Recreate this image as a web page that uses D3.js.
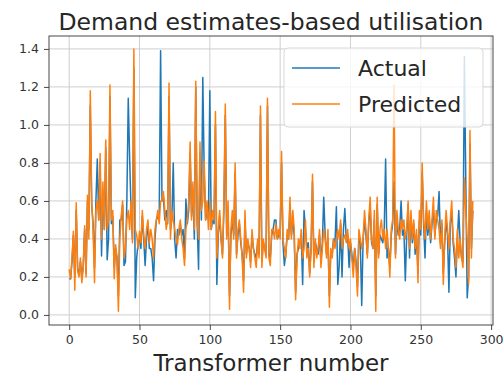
<!DOCTYPE html>
<html>
<head>
<meta charset="utf-8">
<script src="https://cdn.jsdelivr.net/npm/d3@7"></script>
<style>
    html, body { margin: 0; padding: 0; background: #fff; }
    #graphDiv { width: 504px; height: 377px; }
    text { font-family: "DejaVu Sans", sans-serif; }
</style>
</head>
<body>
<div id="graphDiv"></div>
<script>
// data, index = transformer number
var actual = [
    0.19, 0.19, 0.28, 0.42, 0.20, 0.55, 0.25, 0.21, 0.28, 0.19,
    0.26, 0.45, 0.22, 0.60, 0.45, 1.10, 0.58, 0.48, 0.25, 0.60,
    0.82, 0.50, 0.80, 0.31, 0.65, 0.45, 0.88, 0.29, 0.40, 1.15,
    0.48, 0.52, 0.25, 0.35, 0.30, 0.10, 0.50, 0.50, 0.58, 0.26,
    0.28, 0.60, 1.14, 0.82, 0.55, 0.40, 1.30, 0.09, 0.30, 0.38,
    0.40, 0.35, 0.52, 0.40, 0.26, 0.40, 0.48, 0.35, 0.35, 0.30,
    0.18, 0.40, 0.50, 0.52, 0.50, 1.39, 0.60, 0.62, 0.50, 0.55,
    0.48, 1.15, 0.45, 0.50, 0.80, 0.40, 0.30, 0.45, 0.42, 0.48,
    0.42, 0.45, 0.30, 0.61, 0.48, 0.55, 0.85, 0.52, 0.65, 0.40,
    1.20, 0.48, 0.24, 0.85, 0.50, 1.25, 0.75, 0.50, 0.55, 0.50,
    1.18, 0.45, 0.50, 0.48, 1.00, 0.16, 0.42, 0.52, 0.40, 0.32,
    0.55, 1.05, 0.42, 0.55, 0.10, 0.42, 0.50, 0.42, 0.75, 0.32,
    0.42, 0.48, 0.38, 0.32, 0.18, 0.50, 0.32, 0.38, 0.35, 0.28,
    0.42, 0.35, 0.32, 0.30, 0.38, 0.32, 1.05, 0.28, 0.38, 0.35,
    0.32, 1.10, 0.32, 0.30, 0.42, 0.45, 0.50, 0.50, 0.40, 0.42,
    0.42, 0.80, 0.38, 0.26, 0.32, 0.42, 0.40, 0.58, 0.42, 0.50,
    0.42, 0.12, 0.32, 0.35, 0.38, 0.42, 0.16, 0.55, 0.45, 0.35,
    0.38, 0.22, 0.35, 0.70, 0.28, 0.38, 0.35, 0.32, 0.42, 0.28,
    0.38, 0.62, 0.42, 0.32, 0.40, 0.10, 0.33, 0.32, 0.40, 0.38,
    0.57, 0.16, 0.26, 0.48, 0.20, 0.45, 0.56, 0.40, 0.42, 0.25,
    0.38, 0.32, 0.25, 0.35, 0.28, 0.15, 0.42, 0.38, 0.05, 0.40,
    0.50, 0.42, 0.32, 0.48, 0.58, 0.38, 0.35, 0.50, 0.10, 0.58,
    0.32, 0.42, 0.40, 0.38, 0.45, 0.82, 0.30, 0.35, 0.25, 0.42,
    0.48, 0.70, 0.32, 0.50, 0.42, 0.45, 0.60, 0.42, 0.45, 0.18,
    0.42, 0.58, 0.30, 0.52, 0.38, 0.48, 0.32, 0.42, 0.22, 0.50,
    0.42, 0.75, 0.48, 0.30, 0.55, 0.42, 0.50, 0.38, 0.48, 0.55,
    0.42, 0.50, 0.52, 0.65, 0.38, 0.48, 0.22, 0.38, 0.50, 0.42,
    0.12, 0.48, 0.55, 0.38, 0.30, 0.20, 0.40, 0.55, 0.38, 0.30,
    0.28, 1.36, 0.70, 0.09, 0.20, 0.90, 0.35, 0.55
];

var predicted = [
    0.24, 0.19, 0.30, 0.44, 0.13, 0.59, 0.23, 0.20, 0.30, 0.17,
    0.25, 0.47, 0.20, 0.63, 0.40, 1.18, 0.60, 0.45, 0.17, 0.55,
    0.60, 0.50, 0.85, 0.40, 0.70, 0.45, 0.92, 0.45, 0.50, 1.21,
    0.50, 0.55, 0.19, 0.37, 0.30, 0.02, 0.40, 0.52, 0.60, 0.30,
    0.35, 0.50, 0.55, 0.45, 0.60, 0.38, 1.40, 0.45, 0.42, 0.35,
    0.44, 0.38, 0.55, 0.42, 0.35, 0.45, 0.50, 0.38, 0.45, 0.40,
    0.30, 0.45, 0.50, 0.55, 0.48, 0.60, 0.60, 0.65, 0.55, 0.45,
    0.50, 1.22, 0.40, 0.55, 0.50, 0.45, 0.40, 0.37, 0.45, 0.50,
    0.40, 0.35, 0.26, 0.45, 0.50, 0.60, 0.91, 0.50, 0.70, 0.45,
    1.23, 0.50, 0.40, 0.91, 0.55, 0.60, 0.81, 0.50, 0.60, 0.45,
    0.60, 0.45, 0.55, 0.50, 1.07, 0.30, 0.45, 0.55, 0.40, 0.30,
    0.60, 1.11, 0.40, 0.60, 0.03, 0.45, 0.55, 0.40, 0.80, 0.30,
    0.45, 0.50, 0.40, 0.30, 0.12, 0.55, 0.30, 0.40, 0.35, 0.25,
    0.45, 0.35, 0.30, 0.25, 0.40, 0.30, 1.10, 0.25, 0.40, 0.35,
    0.30, 1.14, 0.30, 0.26, 0.45, 0.45, 0.40, 0.48, 0.40, 0.45,
    0.40, 0.86, 0.40, 0.35, 0.30, 0.45, 0.40, 0.62, 0.40, 0.55,
    0.45, 0.08, 0.30, 0.40, 0.35, 0.45, 0.30, 0.35, 0.50, 0.30,
    0.35, 0.20, 0.35, 0.74, 0.25, 0.40, 0.30, 0.35, 0.45, 0.25,
    0.35, 0.45, 0.40, 0.30, 0.45, 0.04, 0.35, 0.30, 0.40, 0.35,
    0.40, 0.45, 0.40, 0.50, 0.35, 0.40, 0.42, 0.38, 0.45, 0.35,
    0.40, 0.30, 0.20, 0.35, 0.25, 0.10, 0.45, 0.40, 0.35, 0.40,
    0.55, 0.45, 0.30, 0.50, 0.62, 0.40, 0.35, 0.55, 0.02, 0.62,
    0.30, 0.45, 0.50, 0.40, 0.45, 0.35, 0.45, 0.35, 0.20, 0.45,
    0.50, 1.21, 0.30, 0.55, 0.45, 0.40, 0.50, 0.45, 0.50, 0.40,
    0.45, 0.60, 0.35, 0.55, 0.40, 0.50, 0.35, 0.45, 0.17, 0.55,
    0.45, 0.80, 0.50, 0.40, 0.60, 0.45, 0.55, 0.40, 0.50, 0.62,
    0.40, 0.55, 0.50, 0.45, 0.35, 0.50, 0.16, 0.40, 0.55, 0.45,
    0.35, 0.50, 0.60, 0.40, 0.35, 0.25, 0.45, 0.30, 0.40, 0.30,
    0.25, 0.72, 0.55, 0.40, 0.16, 0.97, 0.30, 0.60
];

var xTicks = [0, 50, 100, 150, 200, 250, 300];
var yTicks = [0.0, 0.2, 0.4, 0.6, 0.8, 1.0, 1.2, 1.4];
var seriesNames = ["Actual", "Predicted"];
var seriesColors = ["#1f77b4", "#ff7f0e"];

var w = 504, h = 377;
// plot box (not "top": that name is taken by window.top)
var boxLeft = 49, boxRight = 493, boxTop = 36, boxBottom = 325;

var svg = d3.select("#graphDiv")
    .append("svg")
    .attr("width", w)
    .attr("height", h);

svg.append("rect").attr("width", w).attr("height", h).attr("fill", "#fff");

// matplotlib style auto limits (5% margin)
var n = predicted.length;
var xScale = d3.scaleLinear()
    .domain([-0.05 * (n - 1), 1.05 * (n - 1)])
    .range([boxLeft, boxRight]);
var yScale = d3.scaleLinear()
    .domain([-0.053, 1.468])
    .range([boxBottom, boxTop]);

// grid
var grid = svg.append("g").attr("class", "grid");
grid.selectAll("line.gx")
    .data(xTicks)
    .enter().append("line")
    .attr("x1", function (d) { return xScale(d); })
    .attr("x2", function (d) { return xScale(d); })
    .attr("y1", boxTop).attr("y2", boxBottom)
    .attr("stroke", "#cfcfcf").attr("stroke-width", 1);
grid.selectAll("line.gy")
    .data(yTicks)
    .enter().append("line")
    .attr("y1", function (d) { return yScale(d); })
    .attr("y2", function (d) { return yScale(d); })
    .attr("x1", boxLeft).attr("x2", boxRight)
    .attr("stroke", "#cfcfcf").attr("stroke-width", 1);

// lines
var lineFunc = d3.line()
    .x(function (d, i) { return xScale(i); })
    .y(function (d) { return yScale(d); });

svg.append("path")
    .attr("d", lineFunc(actual))
    .attr("fill", "none")
    .attr("stroke", seriesColors[0])
    .attr("stroke-width", 1.5)
    .attr("stroke-linejoin", "round");

svg.append("path")
    .attr("d", lineFunc(predicted))
    .attr("fill", "none")
    .attr("stroke", seriesColors[1])
    .attr("stroke-width", 1.5)
    .attr("stroke-linejoin", "round");

// axes
var xAxis = d3.axisBottom(xScale).tickValues(xTicks).tickSize(5).tickPadding(5)
    .tickFormat(d3.format("d"));
var yAxis = d3.axisLeft(yScale).tickValues(yTicks).tickSize(5).tickPadding(5)
    .tickFormat(d3.format(".1f"));

svg.append("g")
    .attr("class", "x axis")
    .attr("transform", "translate(0," + boxBottom + ")")
    .call(xAxis);
svg.append("g")
    .attr("class", "y axis")
    .attr("transform", "translate(" + boxLeft + ",0)")
    .call(yAxis);

svg.selectAll(".axis .domain").remove();
svg.selectAll(".axis line").attr("stroke", "#333").attr("stroke-width", 0.9);
svg.selectAll(".axis text")
    .attr("fill", "#333")
    .style("font-family", "DejaVu Sans")
    .style("font-size", "12.5px");

// frame
svg.append("rect")
    .attr("x", boxLeft).attr("y", boxTop)
    .attr("width", boxRight - boxLeft).attr("height", boxBottom - boxTop)
    .attr("fill", "none")
    .attr("stroke", "#333")
    .attr("stroke-width", 0.9);

// title and label
svg.append("text")
    .attr("x", (boxLeft + boxRight) / 2).attr("y", 30)
    .attr("text-anchor", "middle")
    .attr("fill", "#262626")
    .style("font-size", "23.5px")
    .text("Demand estimates-based utilisation");

svg.append("text")
    .attr("x", (boxLeft + boxRight) / 2).attr("y", 371)
    .attr("text-anchor", "middle")
    .attr("fill", "#262626")
    .style("font-size", "23px")
    .text("Transformer number");

// legend
var legend = svg.append("g").attr("class", "legend");
legend.append("rect")
    .attr("x", 284).attr("y", 48)
    .attr("width", 199).attr("height", 79)
    .attr("rx", 4)
    .attr("fill", "#fff").attr("fill-opacity", 0.8)
    .attr("stroke", "#d8d8d8");

var items = legend.selectAll("g.item")
    .data(seriesNames)
    .enter().append("g")
    .attr("transform", function (d, i) { return "translate(0," + (68 + i * 36) + ")"; });
items.append("line")
    .attr("x1", 292).attr("x2", 340)
    .attr("stroke", function (d, i) { return seriesColors[i]; })
    .attr("stroke-width", 1.5);
items.append("text")
    .attr("x", 358).attr("y", 8)
    .attr("fill", "#262626")
    .style("font-size", "22px")
    .text(function (d) { return d; });
</script>
</body>
</html>
